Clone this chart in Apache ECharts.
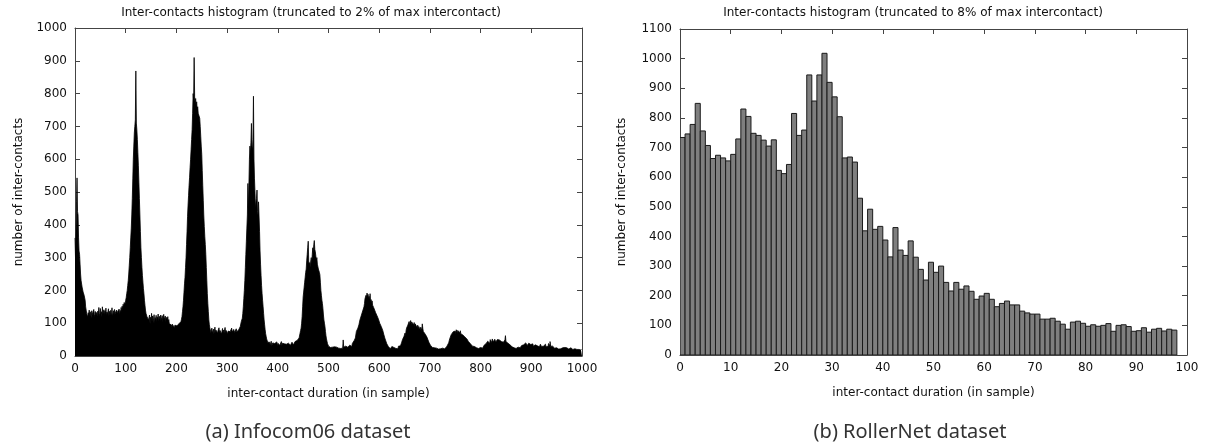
<!DOCTYPE html>
<html>
<head>
<meta charset="utf-8">
<title>Inter-contacts histograms</title>
<script src="https://cdn.jsdelivr.net/npm/echarts@6/dist/echarts.min.js"></script>
<style>
  html, body { margin: 0; padding: 0; background: #fff; }
  #chart { width: 1208px; height: 446px; }
</style>
</head>
<body>
<div id="chart"></div>
<script>
// Infocom06: number of inter-contacts per duration bin (bins 0..999, one sample wide)
const infocomCounts = [
  360,300,380,470,543,440,430,360,320,310,280,250,230,225,210,205,195,190,185,180,
  170,150,140,130,128,118,132,125,140,122,135,128,115,138,126,131,120,142,127,119,
  136,124,133,129,121,137,125,148,130,122,145,128,135,120,150,127,133,141,124,138,
  129,146,122,134,127,131,144,123,136,128,139,125,133,147,121,130,138,126,142,129,
  135,124,140,132,127,136,129,143,125,139,131,148,135,152,141,158,146,163,155,160,
  170,178,190,200,215,230,250,275,300,330,360,390,430,480,540,600,640,680,700,720,
  869,710,690,660,620,580,530,480,430,380,330,300,270,245,225,205,190,170,155,140,
  130,125,120,115,118,110,112,125,98,118,105,130,108,122,101,115,126,99,117,109,
  124,103,119,112,128,106,114,121,108,125,117,110,123,104,119,127,111,116,122,105,
  118,113,109,120,103,111,98,104,92,100,95,88,97,91,99,93,86,94,90,96,
  89,92,87,95,91,98,94,100,97,105,112,120,135,150,170,195,220,240,270,300,
  340,380,426,460,490,520,545,575,600,630,660,690,740,800,780,910,790,770,785,760,
  775,750,760,740,745,735,725,700,670,640,615,565,520,475,430,395,365,340,310,270,
  230,190,160,135,110,95,85,80,72,78,85,70,76,82,68,74,88,71,79,75,
  83,69,77,73,86,70,78,74,81,67,76,84,72,79,70,75,87,71,78,73,
  80,68,76,82,70,77,74,79,71,85,73,77,69,81,75,72,78,70,83,74,
  76,79,72,80,75,85,90,95,105,100,115,130,150,175,200,230,270,310,350,390,
  430,526,450,520,600,640,620,650,709,640,628,660,792,600,540,500,450,470,480,506,
  440,430,470,475,380,320,280,245,215,190,170,150,130,110,95,80,68,60,52,46,
  42,40,38,36,42,33,39,45,31,37,40,34,44,35,38,32,41,36,43,30,
  39,35,37,41,33,38,36,44,32,39,35,40,34,37,42,31,38,36,33,40,
  35,39,34,37,41,33,38,35,42,36,39,34,40,37,44,38,42,40,47,43,
  50,46,55,60,70,78,85,100,120,150,180,195,210,225,240,255,265,290,310,330,
  350,290,275,285,270,290,300,280,310,330,315,340,352,325,318,305,290,300,280,275,
  265,260,255,248,225,200,185,170,160,145,125,110,100,90,75,62,52,45,38,33,
  30,28,24,30,26,22,29,25,27,31,23,26,28,24,30,25,27,22,29,26,
  24,28,25,30,23,27,26,29,24,49,27,25,28,23,30,26,24,29,27,31,
  25,28,33,27,30,35,29,38,34,42,39,48,45,55,60,75,70,80,85,82,
  95,100,110,105,115,125,120,130,140,135,150,160,175,170,185,178,192,180,188,175,
  182,170,190,165,172,160,168,155,160,148,152,140,145,132,138,125,128,118,120,110,
  112,100,105,95,90,84,86,78,72,66,60,55,50,46,40,37,34,31,29,27,
  24,28,22,26,25,29,23,27,24,26,21,25,28,23,26,24,27,22,30,26,
  29,33,31,36,40,45,50,55,48,60,65,70,62,78,85,80,92,98,88,105,
  95,100,108,96,104,110,100,106,95,102,90,98,104,92,100,86,94,82,90,85,
  96,80,88,92,78,98,84,75,80,70,74,66,70,62,58,55,50,46,42,40,
  36,33,30,32,28,26,29,24,22,25,21,23,20,24,19,22,21,25,18,23,
  20,22,26,19,21,24,20,23,22,19,25,21,24,28,26,30,34,40,46,52,
  58,55,65,62,70,66,74,70,78,72,76,68,80,74,70,78,72,82,75,70,
  77,68,74,66,72,64,68,62,66,58,63,55,60,52,48,50,44,46,40,42,
  37,35,38,32,30,33,28,26,29,24,27,23,25,22,24,21,23,20,24,22,
  26,21,25,28,24,30,27,33,29,36,34,38,42,36,45,40,48,43,39,50,
  44,47,41,52,46,43,49,45,51,47,42,48,44,50,46,53,45,49,43,51,
  47,44,50,46,48,42,47,45,49,62,44,46,41,45,39,43,37,40,34,36,
  31,33,28,30,26,29,25,27,24,26,23,25,22,24,27,23,26,28,25,30,
  27,32,35,30,37,34,38,33,36,40,35,38,32,37,34,39,36,33,38,35,
  31,36,33,37,30,35,32,36,34,29,33,38,31,35,30,34,28,33,36,31,
  29,32,27,34,30,35,29,31,36,28,33,30,34,29,38,32,31,44,30,27,
  29,26,30,28,25,27,24,29,26,23,25,22,26,24,21,25,23,27,22,24,
  20,23,25,21,24,22,26,20,23,21,25,22,19,24,21,23,20,22,25,21,
  19,22,20,23,21,19,22,18,21,20,23,19,21,18,20,22,19,21,18,20
];

// RollerNet: number of inter-contacts per duration bin (bins 0..97)
const rollernetCounts = [
  734,746,778,849,756,707,663,674,665,655,
  677,729,830,805,748,741,725,705,726,623,
  612,643,815,741,759,945,857,945,1018,920,
  871,804,665,668,651,529,419,492,424,434,
  388,331,430,354,336,385,330,289,253,313,
  279,300,245,216,245,222,233,215,188,199,
  208,188,163,174,182,169,169,148,142,138,
  138,121,121,124,114,104,87,111,114,107,
  97,102,97,100,106,80,100,102,96,80,
  82,92,77,87,90,81,87,84
];

// Panel texts
const panelTitles = [
  'Inter-contacts histogram (truncated to 2% of max intercontact)',
  'Inter-contacts histogram (truncated to 8% of max intercontact)'
];
const panelCaptions = ['(a) Infocom06 dataset', '(b) RollerNet dataset'];
const xAxisName = 'inter-contact duration (in sample)';
const yAxisName = 'number of inter-contacts';

// Axis ranges and tick steps
const infocomX = { min: 0, max: 1000, step: 100 };
const infocomY = { min: 0, max: 1000, step: 100 };
const rollerX = { min: 0, max: 100, step: 10 };
const rollerY = { min: 0, max: 1100, step: 100 };

const FONT = 'DejaVu Sans';
const BORDER = '#444';
const plainNumber = v => String(v);

// Step outline of the Infocom06 histogram: each bin spans [i, i+1)
const infocomStep = infocomCounts.map((v, i) => [i, v]);
infocomStep.push([infocomCounts.length, infocomCounts[infocomCounts.length - 1]]);

const rollerBins = rollernetCounts.map((v, i) => [i, v]);

function frameAxisBase(gridIndex, range) {
  return {
    gridIndex, type: 'value', min: range.min, max: range.max, interval: range.step,
    splitLine: { show: false },
    axisLine: { show: true, onZero: false, lineStyle: { color: BORDER, width: 1 } },
    axisTick: { show: true, inside: true, length: 5, lineStyle: { color: BORDER } }
  };
}

function xAxes(gridIndex, range, title) {
  const base = frameAxisBase(gridIndex, range);
  return [
    Object.assign({}, base, {
      position: 'bottom',
      axisLabel: { show: true, margin: 7, color: '#111', fontFamily: FONT, fontSize: 12, formatter: plainNumber },
      name: title, nameLocation: 'middle', nameGap: 32,
      nameTextStyle: { color: '#111', fontFamily: FONT, fontSize: 12 }
    }),
    Object.assign({}, base, { position: 'top', axisLabel: { show: false } })
  ];
}

function yAxes(gridIndex, range, title, gap) {
  const base = frameAxisBase(gridIndex, range);
  return [
    Object.assign({}, base, {
      position: 'left',
      axisLabel: { show: true, margin: 8, color: '#111', fontFamily: FONT, fontSize: 12, formatter: plainNumber },
      name: title, nameLocation: 'middle', nameGap: gap, nameRotate: 90,
      nameTextStyle: { color: '#111', fontFamily: FONT, fontSize: 12 }
    }),
    Object.assign({}, base, { position: 'right', axisLabel: { show: false } })
  ];
}

const chart = echarts.init(document.getElementById('chart'), null, { renderer: 'canvas' });

chart.setOption({
  animation: false,
  backgroundColor: '#fff',
  title: [
    { text: panelTitles[0], left: 306, top: 2, textAlign: 'center',
      textStyle: { fontFamily: FONT, fontSize: 12, fontWeight: 'normal', color: '#111' } },
    { text: panelTitles[1], left: 908, top: 2, textAlign: 'center',
      textStyle: { fontFamily: FONT, fontSize: 12, fontWeight: 'normal', color: '#111' } }
  ],
  grid: [
    { left: 75, top: 28, width: 507, height: 328, containLabel: false },
    { left: 680, top: 29, width: 507, height: 326, containLabel: false }
  ],
  xAxis: [].concat(xAxes(0, infocomX, xAxisName), xAxes(1, rollerX, xAxisName)),
  yAxis: [].concat(yAxes(0, infocomY, yAxisName, 50), yAxes(1, rollerY, yAxisName, 52)),
  series: [
    {
      type: 'line', name: 'Infocom06',
      xAxisIndex: 0, yAxisIndex: 0,
      data: infocomStep, step: 'end',
      showSymbol: false, symbol: 'none', sampling: null,
      lineStyle: { color: '#000', width: 0.8 },
      areaStyle: { color: '#000', opacity: 1, origin: 'start' },
      clip: true, z: 3
    },
    {
      type: 'custom', name: 'RollerNet',
      xAxisIndex: 2, yAxisIndex: 2,
      data: rollerBins,
      encode: { x: 0, y: 1 },
      clip: true, z: 3,
      renderItem: function (params, api) {
        const x = api.value(0);
        const v = api.value(1);
        const p0 = api.coord([x, 0]);
        const p1 = api.coord([x + 1, v]);
        return {
          type: 'rect',
          shape: { x: p0[0], y: p1[1], width: p1[0] - p0[0], height: p0[1] - p1[1] },
          style: { fill: '#7f7f7f', stroke: '#1a1a1a', lineWidth: 1 }
        };
      }
    }
  ],
  graphic: [
    { type: 'text', x: 308, y: 432,
      style: { text: panelCaptions[0], fill: '#333', font: '20px "Noto Sans"', align: 'center', verticalAlign: 'middle' } },
    { type: 'text', x: 910, y: 432,
      style: { text: panelCaptions[1], fill: '#333', font: '20px "Noto Sans"', align: 'center', verticalAlign: 'middle' } }
  ]
});
</script>
</body>
</html>
